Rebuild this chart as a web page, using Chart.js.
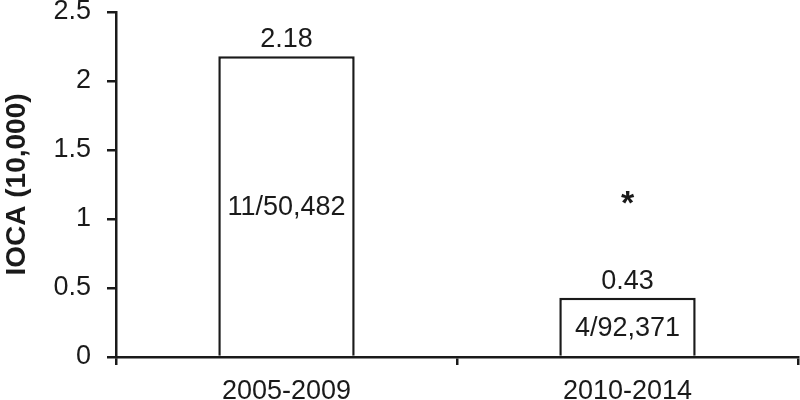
<!DOCTYPE html>
<html>
<head>
<meta charset="utf-8">
<script src="https://cdn.jsdelivr.net/npm/chart.js@4/dist/chart.umd.min.js"></script>
<style>
  html, body { margin: 0; padding: 0; background: #fff; }
  #wrap { width: 800px; height: 400px; }
</style>
</head>
<body>
<div id="wrap"><canvas id="chart"></canvas></div>
<script>
// data
const periods = ['2005-2009', '2010-2014'];
const iocaValues = [2.18, 0.43];
const caseCounts = ['11/50,482', '4/92,371'];
const starIndex = 1;     // category with significance mark
const starValue = 1.16;  // height of the asterisk on the y scale
const yTicks = [0, 0.5, 1, 1.5, 2, 2.5];

const ink = '#1a1a1a';
const fontFamily = '"Liberation Sans", Arial, sans-serif';

// draw value labels, counts inside the bars and the asterisk
const barLabels = {
    id: 'barLabels',
    afterDatasetsDraw(chart) {
        const ctx = chart.ctx;
        const meta = chart.getDatasetMeta(0);
        const yScale = chart.scales.y;
        const xScale = chart.scales.x;
        ctx.save();
        ctx.fillStyle = ink;
        ctx.textAlign = 'center';
        ctx.font = '27px ' + fontFamily;
        meta.data.forEach((bar, i) => {
            ctx.textBaseline = 'alphabetic';
            ctx.fillText(iocaValues[i].toFixed(2), bar.x, bar.y - 9);
            ctx.textBaseline = 'middle';
            ctx.fillText(caseCounts[i], bar.x, (bar.y + bar.base) / 2 + 2);
        });
        ctx.font = 'bold 34px ' + fontFamily;
        ctx.textBaseline = 'middle';
        ctx.fillText('*', xScale.getPixelForValue(starIndex), yScale.getPixelForValue(starValue) + 8);
        ctx.restore();
    }
};

const ctx = document.getElementById('chart').getContext('2d');
const myChart = new Chart(ctx, {
    type: 'bar',
    data: {
        labels: periods,
        datasets: [{
            data: iocaValues,
            backgroundColor: '#ffffff',
            borderColor: ink,
            borderWidth: 2.5,
            borderSkipped: 'bottom',
            barPercentage: 0.8,
            categoryPercentage: 0.5
        }]
    },
    options: {
        responsive: true,
        maintainAspectRatio: false,
        animation: false,
        layout: { padding: { top: 12, right: 2, left: 0, bottom: 0 } },
        plugins: {
            legend: { display: false },
            tooltip: { enabled: false }
        },
        scales: {
            x: {
                border: { color: ink, width: 2.5 },
                grid: {
                    display: true,
                    drawOnChartArea: false,
                    drawTicks: true,
                    tickLength: 8,
                    color: ink,
                    lineWidth: 2.5,
                    offset: true
                },
                ticks: {
                    color: ink,
                    font: { family: fontFamily, size: 27 },
                    padding: 10,
                    maxRotation: 0
                },
                afterFit(scale) {
                    scale.height = 43;
                    scale.paddingLeft = 0;
                    scale.paddingRight = 0;
                }
            },
            y: {
                min: 0,
                max: 2.5,
                afterBuildTicks(scale) {
                    scale.ticks = yTicks.map(v => ({ value: v }));
                },
                border: { color: ink, width: 2.5 },
                grid: {
                    display: true,
                    drawOnChartArea: false,
                    drawTicks: true,
                    tickLength: 9,
                    color: ink,
                    lineWidth: 2.5
                },
                ticks: {
                    color: ink,
                    font: { family: fontFamily, size: 27 },
                    padding: 16,
                    callback: v => String(v)
                },
                title: {
                    display: true,
                    text: 'IOCA (10,000)',
                    color: ink,
                    font: { family: fontFamily, size: 28, weight: 'bold' },
                    padding: { top: 0, bottom: 0 }
                },
                afterFit(scale) {
                    scale.width = 116;
                    scale.paddingTop = 0;
                    scale.paddingBottom = 0;
                }
            }
        }
    },
    plugins: [barLabels]
});
</script>
</body>
</html>
